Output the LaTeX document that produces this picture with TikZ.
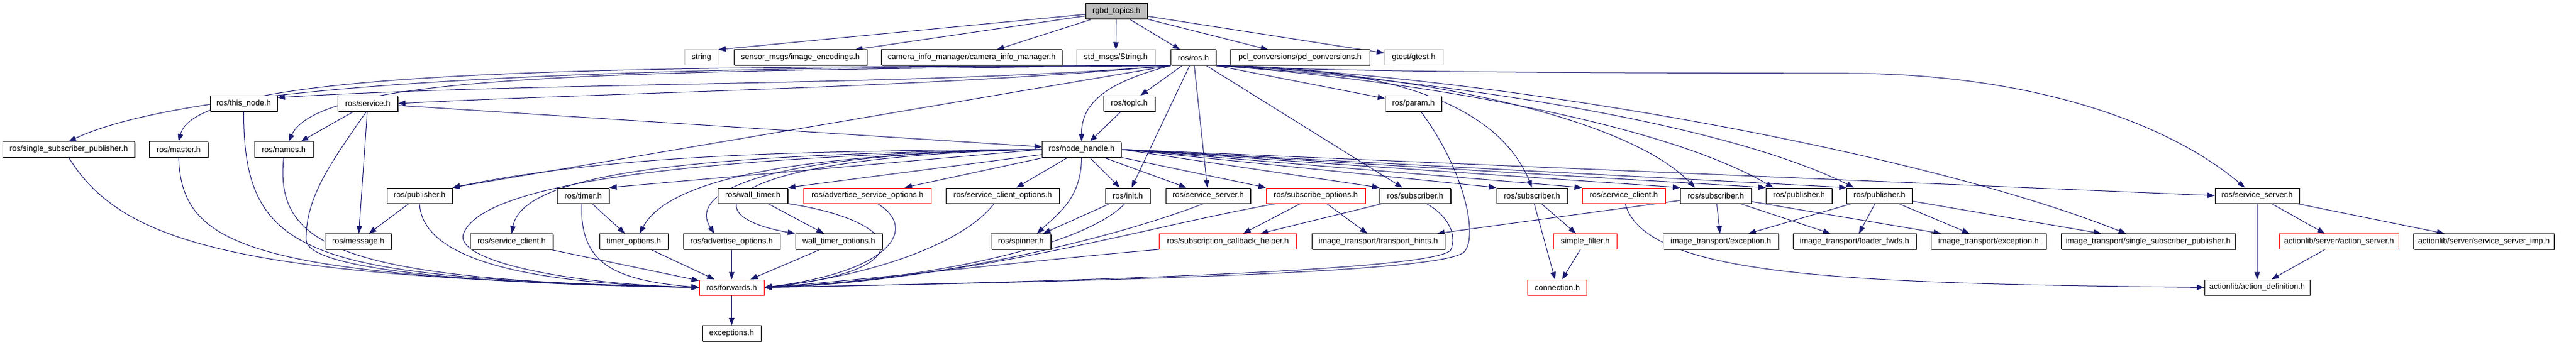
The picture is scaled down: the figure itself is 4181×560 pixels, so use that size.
\documentclass[tikz,border=0pt]{standalone}
\usepackage{fontspec}
\setmainfont{Liberation Sans}
\usetikzlibrary{arrows.meta,shadows}
\pgfdeclarelayer{background}
\pgfsetlayers{background,main}
\definecolor{edgeblue}{HTML}{191970}
\definecolor{boxgrey}{HTML}{BFBFBF}
\tikzset{
    base-box/.style = {rectangle, draw=black, fill=white, line width=0.25mm, inner sep=0pt, minimum height=6.25mm, minimum width=#1*0.25mm, font=\fontsize{9.2}{11}\selectfont},
    file-box/.style = {base-box=#1, drop shadow={shadow xshift=0.3mm, shadow yshift=-0.3mm, fill=black!70, opacity=1}},
    missing-box/.style = {base-box=#1, draw=red},
    system-box/.style = {base-box=#1, draw=boxgrey},
    current-box/.style = {file-box=#1, fill=boxgrey},
    include-arrow/.style = {draw=edgeblue, line width=0.25mm, -{Triangle[length=3mm, width=2.2mm]}},
}

\begin{document}
\begin{tikzpicture}[x=0.25mm, y=-0.25mm]

% top file and its direct includes
\node[current-box=100] (top) at (1812,18.5) {rgbd\_topics.h};
\node[system-box=54] (str) at (1138.5,93.5) {string};
\node[file-box=216] (enc) at (1299,93.5) {sensor\_msgs/image\_encodings.h};
\node[file-box=293] (cim) at (1577,93.5) {camera\_info\_manager/camera\_info\_manager.h};
\node[system-box=128] (stdstr) at (1811,93.5) {std\_msgs/String.h};
\node[file-box=73] (ros) at (1937,93.5) {ros/ros.h};
\node[file-box=226] (pcl) at (2110,93.5) {pcl\_conversions/pcl\_conversions.h};
\node[system-box=95] (gtest) at (2294.5,93.5) {gtest/gtest.h};

\node[file-box=109] (thisnode) at (395.5,168) {ros/this\_node.h};
\node[file-box=97] (service) at (597,168) {ros/service.h};
\node[file-box=83] (topic) at (1833,168) {ros/topic.h};
\node[file-box=91] (param) at (2294,168) {ros/param.h};

\node[file-box=214] (ssp) at (111.5,242.5) {ros/single\_subscriber\_publisher.h};
\node[file-box=95] (master) at (290,242.5) {ros/master.h};
\node[file-box=95] (names) at (460.5,242.5) {ros/names.h};
\node[file-box=128] (nh) at (1755.5,242.5) {ros/node\_handle.h};

\node[file-box=106] (pubc) at (681,317.5) {ros/publisher.h};
\node[file-box=84] (timer) at (946.5,317.5) {ros/timer.h};
\node[file-box=113] (wtimer) at (1222,317.5) {ros/wall\_timer.h};
\node[missing-box=207] (aso) at (1408,317.5) {ros/advertise\_service\_options.h};
\node[file-box=184] (sco) at (1627.5,317.5) {ros/service\_client\_options.h};
\node[file-box=72] (init) at (1830.5,317.5) {ros/init.h};
\node[file-box=137] (ssrv) at (1961,317.5) {ros/service\_server.h};
\node[missing-box=161] (subopt) at (2135.5,317.5) {ros/subscribe\_options.h};
\node[file-box=115] (suba) at (2297,317.5) {ros/subscriber.h};
\node[file-box=115] (subb) at (2486.5,317.5) {ros/subscriber.h};
\node[missing-box=135] (sclient) at (2635.5,317.5) {ros/service\_client.h};
\node[file-box=115] (subc) at (2785,317.5) {ros/subscriber.h};
\node[file-box=107] (puba) at (2920,317.5) {ros/publisher.h};
\node[file-box=106] (pubb) at (3050.5,317.5) {ros/publisher.h};
\node[file-box=137] (ssrvb) at (3663.5,317.5) {ros/service\_server.h};

\node[file-box=108] (message) at (581.5,392) {ros/message.h};
\node[file-box=134] (sclb) at (830.5,392) {ros/service\_client.h};
\node[file-box=111] (topt) at (1028.5,392) {timer\_options.h};
\node[file-box=157] (aopt) at (1187.5,392) {ros/advertise\_options.h};
\node[file-box=141] (wtopt) at (1361.5,392) {wall\_timer\_options.h};
\node[file-box=97] (spinner) at (1657,392) {ros/spinner.h};
\node[missing-box=223] (cbh) at (1993,392) {ros/subscription\_callback\_helper.h};
\node[file-box=216] (hints) at (2237,392) {image\_transport/transport\_hints.h};
\node[missing-box=103] (sfilter) at (2573,392) {simple\_filter.h};
\node[file-box=187] (itexa) at (2793,392) {image\_transport/exception.h};
\node[file-box=200] (loader) at (3010,392) {image\_transport/loader\_fwds.h};
\node[file-box=187] (itexb) at (3227.5,392) {image\_transport/exception.h};
\node[file-box=283] (itssp) at (3486.5,392) {image\_transport/single\_subscriber\_publisher.h};
\node[missing-box=194] (aserver) at (3796.5,392) {actionlib/server/action\_server.h};
\node[file-box=228] (ssimp) at (4031.5,392) {actionlib/server/service\_server\_imp.h};

\node[missing-box=105] (fwd) at (1187.5,466.5) {ros/forwards.h};
\node[missing-box=96] (conn) at (2527.5,466.5) {connection.h};
\node[file-box=171] (adef) at (3663.5,466.5) {actionlib/action\_definition.h};

\node[file-box=95] (exc) at (1187.5,541) {exceptions.h};

\begin{pgfonlayer}{background}
\fill[white] (0,0) rectangle (4181,560);

% rgbd_topics.h
\draw[include-arrow] (top) -- (str.north east);
\foreach \t in {enc,cim,stdstr,ros,pcl,gtest}
    \draw[include-arrow] (top) -- (\t);

% ros/ros.h
\draw[include-arrow] (ros.south west) .. controls (1200,108) and (350,118) .. (ssp.north);
\draw[include-arrow] (ros.south west) .. controls (1000,108) and (320,110) .. (master.north);
\draw[include-arrow] (ros.south west) .. controls (1000,115) and (520,120) .. ([xshift=2mm]names.north);
\draw[include-arrow] (ros.south west) .. controls (1500,140) and (900,132) .. (thisnode.10);
\draw[include-arrow] (ros.south west) .. controls (1500,143) and (1000,150) .. (service.east);
\draw[include-arrow] (ros.south west) -- (pubc.north east);
\draw[include-arrow] (ros.south west) .. controls (1790,135) and (1755,170) .. (nh.north);
\draw[include-arrow] (ros) -- (topic);
\draw[include-arrow] (ros) -- (init);
\draw[include-arrow] (ros) -- (ssrv);
\draw[include-arrow] (ros.south east) -- (param.170);
\draw[include-arrow] (ros) -- (suba);
\draw[include-arrow] (ros.south east) .. controls (2300,108) and (2440,190) .. (subb.north);
\draw[include-arrow] (ros.south east) .. controls (2300,118) and (2640,190) .. ([xshift=6mm]subc.north west);
\draw[include-arrow] (ros.south east) .. controls (2300,130) and (2700,200) .. ([xshift=3mm]puba.north west);
\draw[include-arrow] (ros.south east) .. controls (2350,130) and (2800,200) .. ([xshift=3mm]pubb.north west);
\draw[include-arrow] (ros.south east) .. controls (2400,120) and (3100,240) .. ([xshift=-9mm]itssp.north);
\draw[include-arrow] (ros.south east) .. controls (2200,118) and (2600,118) .. (3000,119) .. controls (3300,120) and (3520,200) .. ([xshift=-5mm]ssrvb.north);

% ros/topic.h, ros/service.h
\draw[include-arrow] (topic) -- (nh);
\draw[include-arrow] (service) -- (nh);
\draw[include-arrow] (service) -- ([xshift=7mm]names.north);
\draw[include-arrow] (service) -- (message);
\draw[include-arrow] (service.-100) .. controls (540,260) and (495,320) .. (497,390) .. controls (499,440) and (800,462) .. (fwd.west);

% left side into ros/forwards.h
\draw[include-arrow] (ssp.south) .. controls (200,400) and (400,450) .. (fwd.west);
\draw[include-arrow] (master.south) .. controls (295,400) and (400,450) .. (fwd.west);
\draw[include-arrow] (thisnode.south) .. controls (395,420) and (500,450) .. (fwd.west);
\draw[include-arrow] (names.south) .. controls (445,400) and (550,455) .. (fwd.west);
\draw[include-arrow] (pubc.south) .. controls (685,420) and (850,460) .. (fwd.west);
\draw[include-arrow] (pubc) -- (message);
\draw[include-arrow] (timer.-100) .. controls (940,430) and (1000,455) .. (fwd.west);
\draw[include-arrow] (timer) -- (topt);
\draw[include-arrow] (wtimer) -- (wtopt);
\foreach \s in {sclb,topt,aopt,wtopt}
    \draw[include-arrow] (\s) -- (fwd);

% right side into ros/forwards.h
\draw[include-arrow] (wtimer.south east) .. controls (1470,360) and (1500,440) .. (fwd.east);
\draw[include-arrow] ([xshift=4mm]aso.south) .. controls (1490,370) and (1450,440) .. (fwd.east);
\draw[include-arrow] ([xshift=-3.5mm]sco.south) .. controls (1560,400) and (1400,450) .. (fwd.east);
\draw[include-arrow] (init.-110) .. controls (1760,400) and (1500,455) .. (fwd.east);
\draw[include-arrow] (ssrv.-120) .. controls (1800,390) and (1500,460) .. (fwd.east);
\draw[include-arrow] (cbh.south west) .. controls (1700,420) and (1400,455) .. (fwd.east);
\draw[include-arrow] ([xshift=-16mm]subopt.south) .. controls (1850,370) and (1600,450) .. (fwd.east);
\draw[include-arrow] ([xshift=4.5mm]suba.south) .. controls (2350,350) and (2365,380) .. (2355,405) .. controls (2340,440) and (1700,458) .. (fwd.east);
\draw[include-arrow] ([xshift=3mm]param.south) .. controls (2380,280) and (2400,390) .. (2375,410) .. controls (2330,445) and (1700,458) .. (fwd.east);
\draw[include-arrow] (fwd) -- (exc);

% ros/node_handle.h
\draw[include-arrow] (nh.west) .. controls (1300,245) and (1000,250) .. (pubc.north east);
\draw[include-arrow] (nh.west) .. controls (1200,250) and (850,270) .. (sclb.north);
\draw[include-arrow] (nh.west) .. controls (1100,255) and (780,300) .. (752,380) .. controls (738,420) and (900,460) .. (fwd.west);
\draw[include-arrow] (nh.west) -- (timer.north east);
\draw[include-arrow] (nh.west) .. controls (1250,250) and (1080,300) .. ([xshift=2.4mm]topt.north);
\draw[include-arrow] (nh.west) .. controls (1200,250) and (1120,320) .. ([xshift=-7mm]aopt.north);
\draw[include-arrow] (nh.west) .. controls (1150,255) and (1120,350) .. (wtopt.north west);
\draw[include-arrow] (nh) -- (wtimer.north east);
\foreach \t in {aso,sco,init,ssrv}
    \draw[include-arrow] (nh) -- (\t);
\draw[include-arrow] (nh.south) .. controls (1755,320) and (1720,345) .. ([xshift=6.5mm]spinner.north);
\draw[include-arrow] (init) -- ([xshift=9mm]spinner.north);
\draw[include-arrow] (nh.south east) -- (subopt.north west);
\foreach \t in {suba,subb,sclient,subc,puba,pubb}
    \draw[include-arrow] (nh.east) -- (\t.north west);
\draw[include-arrow] (nh.east) -- (ssrvb.west);

% subscribers, publishers, service server
\draw[include-arrow] (subopt) -- (cbh);
\draw[include-arrow] (suba) -- (cbh);
\draw[include-arrow] (subopt) -- (hints);
\draw[include-arrow] (subc) -- (hints);
\draw[include-arrow] (subb) -- (sfilter);
\draw[include-arrow] (subb) -- (conn);
\draw[include-arrow] (sfilter) -- (conn);
\draw[include-arrow] (sclient.-80) .. controls (2670,450) and (3000,460) .. (adef.west);
\foreach \t in {itexa,loader,itexb}
    \draw[include-arrow] (subc) -- (\t);
\foreach \t in {itexa,loader,itexb,itssp}
    \draw[include-arrow] (pubb) -- (\t);
\foreach \t in {adef,aserver,ssimp}
    \draw[include-arrow] (ssrvb) -- (\t);
\draw[include-arrow] (aserver) -- (adef);
\end{pgfonlayer}
\end{tikzpicture}
\end{document}
